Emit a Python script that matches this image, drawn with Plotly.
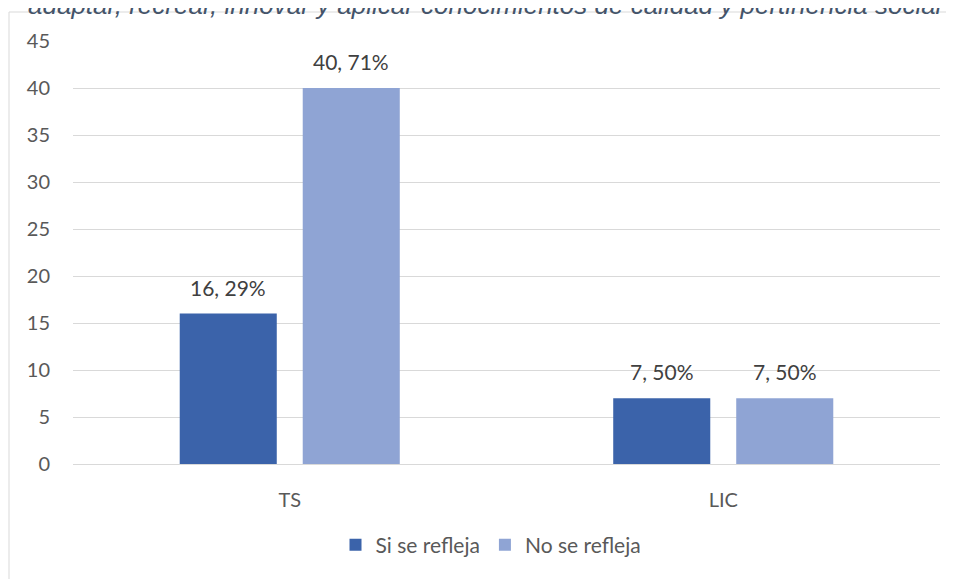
import plotly.graph_objects as go

categories = ["TS", "LIC"]
series_names = ["Si se refleja", "No se refleja"]
si_values = [16, 7]
no_values = [40, 7]
colors = ["#3B63AA", "#8FA4D4"]
y_ticks = [0, 5, 10, 15, 20, 25, 30, 35, 40, 45]
title_text = "adaptar, recrear, innovar y aplicar conocimientos de calidad y pertinencia social"

# page body has an 8px margin, so the figure starts at (8, 8)
OFF = 8
W, H = 954 - OFF, 579 - OFF
L, T = 73 - OFF, 41 - OFF
pw, ph = 867, 423
R = W - L - pw
B = H - T - ph

def px_x(x):  # screen px -> paper x
    return (x - OFF - L) / pw

def px_y(y):  # screen px -> paper y
    return (T + ph - (y - OFF)) / ph

totals = [a + b for a, b in zip(si_values, no_values)]
series_values = [si_values, no_values]

fig = go.Figure()
for name, vals, col in zip(series_names, series_values, colors):
    fig.add_trace(go.Bar(x=categories, y=vals, name=name,
                         marker=dict(color=col, line=dict(width=0))))

font_main = "Lato, 'Open Sans', sans-serif"
annotations = []
slot_shift = 61.5
for si, vals in enumerate(series_values):
    for ci, (cat, v) in enumerate(zip(categories, vals)):
        pct = round(100 * v / totals[ci])
        annotations.append(dict(
            x=cat, y=v, xref="x", yref="y", text=f"{v}, {pct}%",
            showarrow=False, xshift=(-slot_shift if si == 0 else slot_shift),
            yanchor="bottom", yshift=12,
            font=dict(family=font_main, size=21, color="#404040")))

annotations.append(dict(
    x=px_x(26), y=px_y(5), xref="paper", yref="paper",
    xanchor="left", yanchor="middle", text=title_text, showarrow=False,
    font=dict(family="Liberation Sans, Arial", size=26, color="#44546A", style="italic")))

shapes = [dict(type="rect", xref="paper", yref="paper",
               x0=px_x(9), x1=1.2, y0=-0.6, y1=px_y(12),
               line=dict(color="#D9D9D9", width=1), fillcolor="rgba(0,0,0,0)", layer="below")]

fig.update_layout(
    width=W, height=H,
    margin=dict(l=L, r=R, t=T, b=B, autoexpand=False),
    paper_bgcolor="white", plot_bgcolor="white",
    barmode="group", bargap=0.4325, bargroupgap=0.211,
    font=dict(family=font_main, size=20, color="#595959"),
    showlegend=True,
    legend=dict(orientation="h", x=px_x(491), xanchor="center",
                y=px_y(545), yanchor="middle",
                font=dict(family=font_main, size=21, color="#595959"),
                itemwidth=30, traceorder="normal"),
    annotations=annotations,
    shapes=shapes,
    xaxis=dict(showgrid=False, showline=False, ticks="", ticklabelstandoff=22,
               tickfont=dict(family=font_main, size=20, color="#595959")),
    yaxis=dict(range=[0, 45], tickvals=y_ticks, showgrid=True, gridcolor="#D9D9D9",
               gridwidth=1, zeroline=True, zerolinecolor="#D9D9D9", zerolinewidth=1,
               showline=False, ticks="", ticklabelstandoff=22,
               tickfont=dict(family=font_main, size=20, color="#595959")),
)

fig.write_html("out.html")
